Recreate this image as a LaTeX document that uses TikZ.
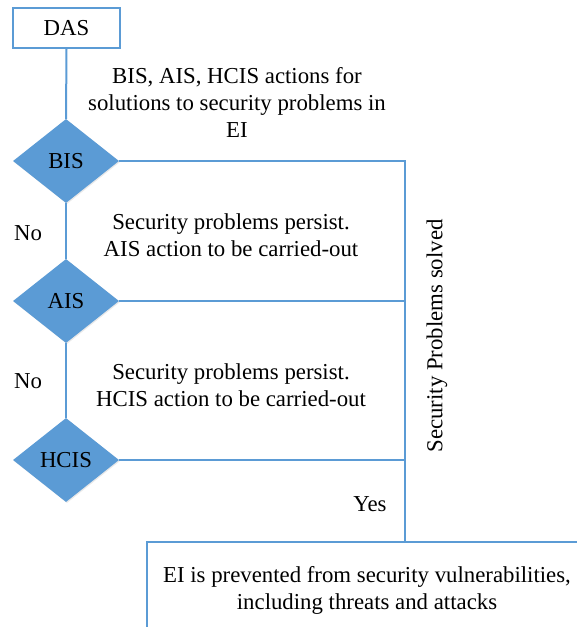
\documentclass[tikz,border=0pt]{standalone}
\usepackage{fontspec}
\setmainfont{Liberation Serif}
\usetikzlibrary{shapes.geometric,shadows}
\definecolor{flowblue}{HTML}{5B9BD5}
\tikzset{
  flow/.style={draw=flowblue, line width=2pt},
  startbox/.style={draw=flowblue, line width=2pt, fill=white, minimum width=107pt, minimum height=40pt, inner sep=0pt},
  decision/.style={diamond, fill=flowblue, aspect=1.26, minimum width=106pt, minimum height=84pt, inner sep=0pt,
    drop shadow={opacity=0.18, shadow xshift=1pt, shadow yshift=-1pt}},
  note/.style={align=center, inner sep=0pt},
}
\begin{document}
\begin{tikzpicture}[x=1pt, y=-1pt, font=\fontsize{22.8}{27}\selectfont]
\useasboundingbox (0,0) rectangle (577,627);
\clip (0,0) rectangle (577,627);

% start and decision chain
\node[startbox] (das) at (66.5,28) {DAS};
\node[decision] (bis) at (66,161) {BIS};
\node[decision] (ais) at (66,301) {AIS};
\node[decision] (hcis) at (66,460) {HCIS};

% outcome box, open at the right and bottom edges
\node[flow, draw, minimum width=516pt, minimum height=158pt, inner sep=0pt] (res) at (405,621) {};
\node[note] (restext) at (367,590) {EI is prevented from security vulnerabilities,\\including threats and attacks};

% connectors
\draw[flow] (das.south) -- (bis.north);
\draw[flow] (bis.south) -- (ais.north);
\draw[flow] (ais.south) -- (hcis.north);
\draw[flow] (bis.east) -| (res.north);
\draw[flow] (ais.east) -- (ais.east -| res.north);
\draw[flow] (hcis.east) -- (hcis.east -| res.north);

% labels
\node[note] (l1) at (237,102) {BIS, AIS, HCIS actions for\\solutions to security problems in\\EI};
\node[note] (l2) at (231,235) {Security problems persist.\\AIS action to be carried-out};
\node[note] (l3) at (231,385) {Security problems persist.\\HCIS action to be carried-out};
\node[note] (no1) at (28,233) {No};
\node[note] (no2) at (28,381) {No};
\node[note] (yes) at (370,504) {Yes};
\node[note, rotate=90] (solved) at (437,336) {Security Problems solved};
\end{tikzpicture}
\end{document}
